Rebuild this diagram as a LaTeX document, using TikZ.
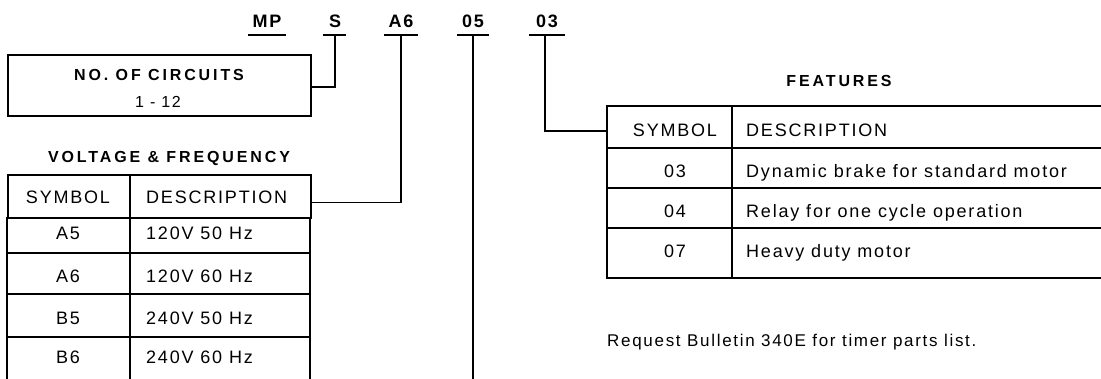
\documentclass[tikz,border=0pt]{standalone}
\usepackage{fontspec}
\setmainfont{Liberation Sans}
\newfontfamily\tfont{Liberation Sans}[LetterSpace=10]
\newfontfamily\hfont{Liberation Sans}[LetterSpace=18]
\newfontfamily\lfont{Liberation Sans}[LetterSpace=11]
\begin{document}
\begin{tikzpicture}[x=1pt,y=-1pt,
  lab/.style={font=\lfont\bfseries\fontsize{18}{20}\selectfont, anchor=base, inner sep=0pt},
  head/.style={font=\hfont\bfseries\fontsize{16}{18}\selectfont, anchor=base, inner sep=0pt},
  cell/.style={font=\tfont\fontsize{18}{20}\selectfont, anchor=base, inner sep=0pt},
  celll/.style={cell, anchor=base west},
  tab/.style={line width=1.8pt},
  conn/.style={line width=1.4pt},
  ul/.style={line width=1.6pt}]
\useasboundingbox[fill=white] (0,0) rectangle (1101,379);
% code letters
\node[lab] (lMP) at (267,28) {MP};
\node[lab] (lS)  at (335,28) {S};
\node[lab] (lA6) at (401,28) {A6};
\node[lab] (l05) at (473,28) {05};
\node[lab] (l03) at (547,28) {03};
\draw[ul] (248,35) -- (286,35);
\draw[ul] (323,35) -- (346,35);
\draw[ul] (384,35) -- (418,35);
\draw[ul] (457,35) -- (489,35);
\draw[ul] (529,35) -- (565,35);
\coordinate (sS) at (335,35);
\coordinate (sA6) at (401,35);
\coordinate (s05) at (473,35);
\coordinate (s03) at (545,35);
\coordinate (e05) at (473,379);
% number of circuits box
\node[draw, tab, minimum width=303pt, minimum height=61pt, anchor=north west, inner sep=0pt] (circ) at (7,54) {};
\node[head] (circt) at (159,80.5) {NO. OF CIRCUITS};
\node[cell, font=\tfont\fontsize{16}{18}\selectfont] (circn) at (158,107.5) {1 - 12};
\draw[conn] (sS) |- ([yshift=-1.5pt]circ.east);
% voltage & frequency table
\node[head] (vft) at (169,163) {VOLTAGE \& FREQUENCY};
\node[draw, tab, minimum width=303pt, minimum height=43pt, anchor=north west, inner sep=0pt] (vfhead) at (7,174) {};
\draw[tab] (7,217) -- (7,379);
\draw[tab] (310,217) -- (310,379);
\draw[tab] (130,174) -- (130,379);
\draw[tab] (7,253) -- (310,253);
\draw[tab] (7,294) -- (310,294);
\draw[tab] (7,337) -- (310,337);
\node[cell] (vfs) at (68,204) {SYMBOL};
\node[celll] (vfd) at (146,204) {DESCRIPTION};
\node[cell] (va5) at (68,240) {A5};
\node[celll] (vd5) at (146,240) {120V 50 Hz};
\node[cell] (va6) at (68,283) {A6};
\node[celll] (vd6) at (146,283) {120V 60 Hz};
\node[cell] (vb5) at (68,325) {B5};
\node[celll] (vdb5) at (146,325) {240V 50 Hz};
\node[cell] (vb6) at (68,364) {B6};
\node[celll] (vdb6) at (146,364) {240V 60 Hz};
\draw[conn] (sA6) |- ([yshift=-6pt]vfhead.east);
% 05 line
\draw[conn] (s05) -- (e05);
% features table
\node[head] (ft) at (839,87) {FEATURES};
\node[minimum width=494pt, minimum height=42pt, anchor=north west, inner sep=0pt] (fhead) at (607,106) {};
\draw[tab] (1101,106) -- (607,106) -- (607,278) -- (1101,278);
\draw[tab] (732,106) -- (732,278);
\draw[tab] (607,148) -- (1101,148);
\draw[tab] (607,188) -- (1101,188);
\draw[tab] (607,228) -- (1101,228);
\node[cell] (fs) at (675,137) {SYMBOL};
\node[celll] (fd) at (746,137) {DESCRIPTION};
\node[cell] (f03) at (675,178) {03};
\node[celll] (fd03) at (746,178) {Dynamic brake for standard motor};
\node[cell] (f04) at (675,218) {04};
\node[celll] (fd04) at (746,218) {Relay for one cycle operation};
\node[cell] (f07) at (675,258) {07};
\node[celll] (fd07) at (746,258) {Heavy duty motor};
\draw[conn] (s03) |- ([yshift=-4pt]fhead.west);
% note
\node[celll, font=\tfont\fontsize{17}{19}\selectfont] (note) at (607,347) {Request Bulletin 340E for timer parts list.};
\end{tikzpicture}
\end{document}
